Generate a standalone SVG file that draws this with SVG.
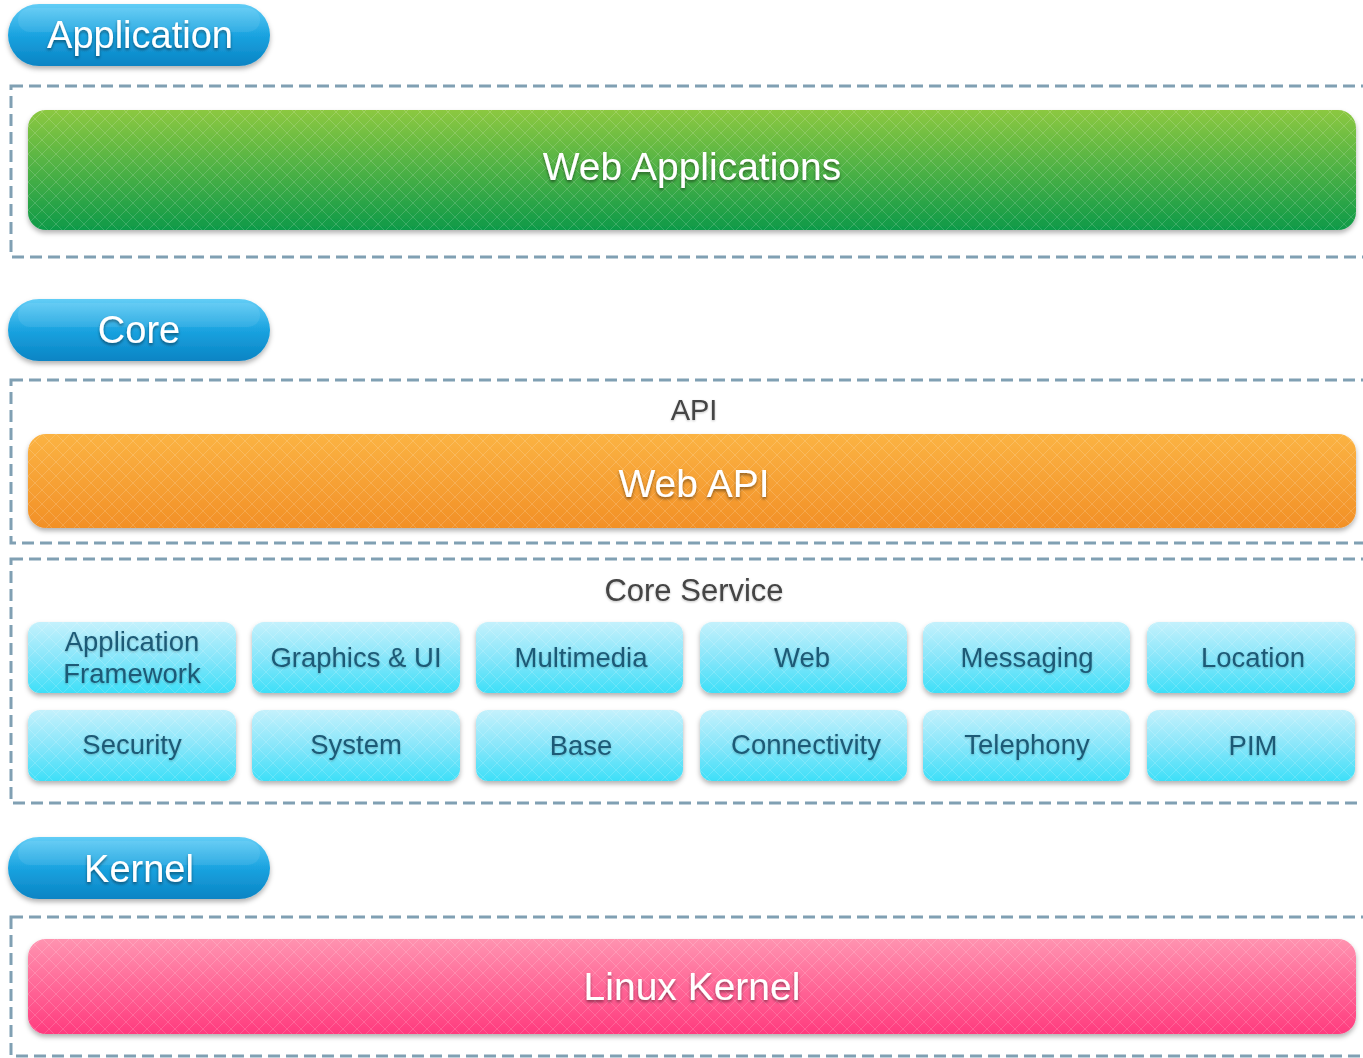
<svg xmlns="http://www.w3.org/2000/svg" width="1363" height="1058" viewBox="0 0 1363 1058">
<defs>
<linearGradient id="gPill" x1="0" y1="0" x2="0" y2="1">
<stop offset="0" stop-color="#62cdf6"/><stop offset="0.5" stop-color="#1aa3e0"/><stop offset="1" stop-color="#0a84c4"/>
</linearGradient>
<linearGradient id="gGreen" x1="0" y1="0" x2="0" y2="1">
<stop offset="0" stop-color="#8cc841"/><stop offset="1" stop-color="#0e9a48"/>
</linearGradient>
<linearGradient id="gOrange" x1="0" y1="0" x2="0" y2="1">
<stop offset="0" stop-color="#fbb343"/><stop offset="1" stop-color="#f29027"/>
</linearGradient>
<linearGradient id="gPink" x1="0" y1="0" x2="0" y2="1">
<stop offset="0" stop-color="#ff93b0"/><stop offset="1" stop-color="#ff3b7e"/>
</linearGradient>
<linearGradient id="gTile" x1="0" y1="0" x2="0" y2="1">
<stop offset="0" stop-color="#c4f1fc"/><stop offset="0.5" stop-color="#88e6fa"/><stop offset="1" stop-color="#3ddff8"/>
</linearGradient>
<pattern id="hatch" width="14" height="14" patternUnits="userSpaceOnUse">
<path d="M0 0 L14 14 M14 0 L0 14" stroke="#ffffff" stroke-opacity="0.16" stroke-width="1"/>
</pattern>
<filter id="sh" x="-5%" y="-20%" width="110%" height="150%">
<feDropShadow dx="0" dy="3" stdDeviation="2.5" flood-color="#000" flood-opacity="0.3"/>
</filter>
<filter id="tsh" x="-10%" y="-30%" width="120%" height="160%">
<feDropShadow dx="0" dy="2" stdDeviation="1.5" flood-color="#000" flood-opacity="0.45"/>
</filter>
<filter id="dsh" x="-5%" y="-30%" width="110%" height="160%">
<feDropShadow dx="0" dy="1" stdDeviation="1" flood-color="#000" flood-opacity="0.25"/>
</filter>
</defs>
<style>
.frame{fill:none;stroke:#80a0b3;stroke-width:3;stroke-dasharray:12 6}
.pilltxt{font-family:"Liberation Sans",Arial,sans-serif;font-size:38px;fill:#fff;text-anchor:middle;filter:url(#tsh)}
.bartxt{font-family:"Liberation Sans",Arial,sans-serif;font-size:39px;fill:#fff;text-anchor:middle;filter:url(#tsh)}
.hdr{font-family:"Liberation Sans",Arial,sans-serif;font-size:31px;fill:#444;text-anchor:middle;filter:url(#dsh)}
.tiletxt{font-family:"Liberation Sans",Arial,sans-serif;font-size:27.5px;fill:#1d5a76;text-anchor:middle;filter:url(#dsh)}
</style>
<rect width="1363" height="1058" fill="#ffffff"/>

<g id="frames">
<rect class="frame" x="11" y="86" width="1370" height="171"/>
<rect class="frame" x="11" y="380" width="1370" height="163"/>
<rect class="frame" x="11" y="559" width="1370" height="244"/>
<rect class="frame" x="11" y="917" width="1370" height="139"/>
</g>

<g id="pill-application">
<rect x="8" y="4" width="262" height="62" rx="31" fill="url(#gPill)" filter="url(#sh)"/>
<rect x="18" y="8" width="242" height="24" rx="12" fill="#fff" fill-opacity="0.08"/>
<text class="pilltxt" x="140" y="48">Application</text>
</g>
<g id="pill-core">
<rect x="8" y="299" width="262" height="62" rx="31" fill="url(#gPill)" filter="url(#sh)"/>
<rect x="18" y="303" width="242" height="24" rx="12" fill="#fff" fill-opacity="0.08"/>
<text class="pilltxt" x="139" y="343">Core</text>
</g>
<g id="pill-kernel">
<rect x="8" y="837" width="262" height="62" rx="31" fill="url(#gPill)" filter="url(#sh)"/>
<rect x="18" y="841" width="242" height="24" rx="12" fill="#fff" fill-opacity="0.08"/>
<text class="pilltxt" x="139" y="882">Kernel</text>
</g>

<g id="web-applications">
<rect x="28" y="110" width="1328" height="120" rx="18" fill="url(#gGreen)" filter="url(#sh)"/>
<rect x="28" y="110" width="1328" height="120" rx="18" fill="url(#hatch)"/>
<text class="bartxt" x="692" y="180">Web Applications</text>
</g>

<g id="api">
<text class="hdr" x="694" y="420" style="font-size:29px">API</text>
</g>
<g id="web-api">
<rect x="28" y="434" width="1328" height="94" rx="18" fill="url(#gOrange)" filter="url(#sh)"/>
<rect x="28" y="434" width="1328" height="94" rx="18" fill="url(#hatch)"/>
<text class="bartxt" x="694" y="497">Web API</text>
</g>

<g id="core-service">
<text class="hdr" x="694" y="601">Core Service</text>
</g>

<g id="tile-app-framework">
<rect x="28" y="622" width="208" height="71" rx="12" fill="url(#gTile)" filter="url(#sh)"/>
<rect x="28" y="622" width="208" height="71" rx="12" fill="url(#hatch)"/>
<text class="tiletxt" x="132" y="651">Application</text>
<text class="tiletxt" x="132" y="683">Framework</text>
</g>
<g id="tile-graphics">
<rect x="252" y="622" width="208" height="71" rx="12" fill="url(#gTile)" filter="url(#sh)"/>
<rect x="252" y="622" width="208" height="71" rx="12" fill="url(#hatch)"/>
<text class="tiletxt" x="356" y="667">Graphics &amp; UI</text>
</g>
<g id="tile-multimedia">
<rect x="476" y="622" width="207" height="71" rx="12" fill="url(#gTile)" filter="url(#sh)"/>
<rect x="476" y="622" width="207" height="71" rx="12" fill="url(#hatch)"/>
<text class="tiletxt" x="581" y="667">Multimedia</text>
</g>
<g id="tile-web">
<rect x="700" y="622" width="207" height="71" rx="12" fill="url(#gTile)" filter="url(#sh)"/>
<rect x="700" y="622" width="207" height="71" rx="12" fill="url(#hatch)"/>
<text class="tiletxt" x="802" y="667">Web</text>
</g>
<g id="tile-messaging">
<rect x="923" y="622" width="207" height="71" rx="12" fill="url(#gTile)" filter="url(#sh)"/>
<rect x="923" y="622" width="207" height="71" rx="12" fill="url(#hatch)"/>
<text class="tiletxt" x="1027" y="667">Messaging</text>
</g>
<g id="tile-location">
<rect x="1147" y="622" width="208" height="71" rx="12" fill="url(#gTile)" filter="url(#sh)"/>
<rect x="1147" y="622" width="208" height="71" rx="12" fill="url(#hatch)"/>
<text class="tiletxt" x="1253" y="667">Location</text>
</g>

<g id="tile-security">
<rect x="28" y="710" width="208" height="71" rx="12" fill="url(#gTile)" filter="url(#sh)"/>
<rect x="28" y="710" width="208" height="71" rx="12" fill="url(#hatch)"/>
<text class="tiletxt" x="132" y="754">Security</text>
</g>
<g id="tile-system">
<rect x="252" y="710" width="208" height="71" rx="12" fill="url(#gTile)" filter="url(#sh)"/>
<rect x="252" y="710" width="208" height="71" rx="12" fill="url(#hatch)"/>
<text class="tiletxt" x="356" y="754">System</text>
</g>
<g id="tile-base">
<rect x="476" y="710" width="207" height="71" rx="12" fill="url(#gTile)" filter="url(#sh)"/>
<rect x="476" y="710" width="207" height="71" rx="12" fill="url(#hatch)"/>
<text class="tiletxt" x="581" y="755">Base</text>
</g>
<g id="tile-connectivity">
<rect x="700" y="710" width="207" height="71" rx="12" fill="url(#gTile)" filter="url(#sh)"/>
<rect x="700" y="710" width="207" height="71" rx="12" fill="url(#hatch)"/>
<text class="tiletxt" x="806" y="754">Connectivity</text>
</g>
<g id="tile-telephony">
<rect x="923" y="710" width="207" height="71" rx="12" fill="url(#gTile)" filter="url(#sh)"/>
<rect x="923" y="710" width="207" height="71" rx="12" fill="url(#hatch)"/>
<text class="tiletxt" x="1027" y="754">Telephony</text>
</g>
<g id="tile-pim">
<rect x="1147" y="710" width="208" height="71" rx="12" fill="url(#gTile)" filter="url(#sh)"/>
<rect x="1147" y="710" width="208" height="71" rx="12" fill="url(#hatch)"/>
<text class="tiletxt" x="1253" y="755">PIM</text>
</g>

<g id="linux-kernel">
<rect x="28" y="939" width="1328" height="95" rx="18" fill="url(#gPink)" filter="url(#sh)"/>
<rect x="28" y="939" width="1328" height="95" rx="18" fill="url(#hatch)"/>
<text class="bartxt" x="692" y="1000">Linux Kernel</text>
</g>

<g id="connectors"></g>
</svg>
